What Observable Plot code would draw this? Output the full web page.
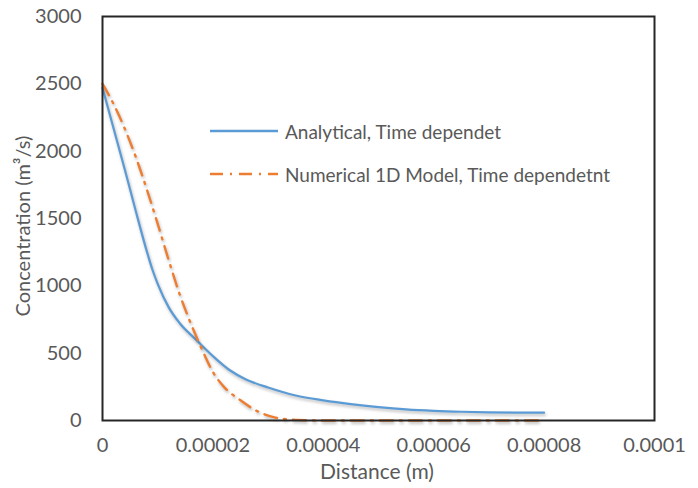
<!DOCTYPE html>
<html>
<head>
<meta charset="utf-8">
<script src="https://cdn.jsdelivr.net/npm/d3@7"></script>
<script src="https://cdn.jsdelivr.net/npm/@observablehq/plot@0.6"></script>
<style>
  html, body { margin: 0; padding: 0; background: #fff; }
  #wrap { position: relative; width: 698px; height: 488px; font-family: Lato, "Open Sans", sans-serif; color: #595959; }
  #wrap svg g[aria-label="line"] path { filter: drop-shadow(1px 2px 1.5px rgba(0,0,0,0.28)); }
  .legend { position: absolute; left: 210px; top: 117px; font-size: 19px; }
  .legend .row { display: flex; align-items: center; height: 28px; margin-bottom: 15px; white-space: nowrap; }
  .legend svg { margin-right: 7px; }
  .xlab { position: absolute; left: 377px; top: 470px; transform: translate(-50%, -50%); font-size: 21px; line-height: 1; white-space: nowrap; }
  .ylab { position: absolute; left: 22px; top: 226px; transform: translate(-50%, -50%) rotate(-90deg); font-size: 20px; line-height: 1; white-space: nowrap; }
</style>
</head>
<body>
<div id="wrap"></div>
<script>
// Analytical, Time dependent (blue)
const analyticalX = [0, 2e-6, 4e-6, 6e-6, 8e-6, 9e-6, 1e-5, 1.2e-5, 1.4e-5, 1.7e-5, 2e-5, 2.3e-5, 2.6e-5, 3e-5, 3.5e-5, 4e-5, 4.5e-5, 5e-5, 5.5e-5, 6e-5, 6.5e-5, 7e-5, 7.5e-5, 8e-5];
const analyticalY = [2470, 2170, 1870, 1560, 1260, 1125, 1015, 840, 722, 598, 478, 375, 305, 245, 186, 150, 122, 100, 83, 72, 65, 61, 59, 58];

// Numerical 1D Model, Time dependent (orange)
const numericalX = [0, 2e-6, 4e-6, 6e-6, 8e-6, 1e-5, 1.2e-5, 1.4e-5, 1.6e-5, 1.8e-5, 2e-5, 2.2e-5, 2.5e-5, 2.8e-5, 3.1e-5, 3.5e-5, 4e-5, 5e-5, 6e-5, 7e-5, 8e-5];
const numericalY = [2500, 2350, 2170, 1960, 1720, 1460, 1190, 935, 720, 530, 360, 250, 150, 70, 25, 5, 0, 0, 0, 0, 0];

const seriesNames = ["Analytical, Time dependet", "Numerical 1D Model, Time dependetnt"];
const xTicks = [0, 0.00002, 0.00004, 0.00006, 0.00008, 0.0001];
const yTicks = [0, 500, 1000, 1500, 2000, 2500, 3000];
const xLabel = "Distance (m)";
const yLabel = "Concentration (m³/s)";

const blue = "#5B9BD5";
const orange = "#ED7D31";
const dash = "13,7,2,7";

const analytical = analyticalX.map((x, i) => ({x, y: analyticalY[i]}));
const numerical = numericalX.map((x, i) => ({x, y: numericalY[i]}));

const chart = Plot.plot({
  width: 698,
  height: 488,
  marginLeft: 102,
  marginRight: 44,
  marginTop: 16,
  marginBottom: 68,
  style: {fontFamily: "Lato, 'Open Sans', sans-serif", fontSize: "20px", color: "#595959", background: "#fff"},
  x: {
    domain: [0, 0.0001],
    ticks: xTicks,
    tickFormat: d => String(+d.toFixed(6)),
    tickSize: 0,
    tickPadding: 17,
    label: null
  },
  y: {
    domain: [0, 3000],
    ticks: yTicks,
    tickFormat: d => String(d),
    tickSize: 0,
    tickPadding: 21,
    label: null
  },
  marks: [
    Plot.line(analytical, {x: "x", y: "y", stroke: blue, strokeWidth: 2.2, curve: "monotone-x"}),
    Plot.line(numerical, {x: "x", y: "y", stroke: orange, strokeWidth: 2.4, strokeDasharray: dash, curve: "monotone-x"}),
    Plot.frame({stroke: "#262626", strokeWidth: 2})
  ]
});

const wrap = document.getElementById("wrap");
wrap.appendChild(chart);

const xl = document.createElement("div");
xl.className = "xlab";
xl.textContent = xLabel;
wrap.appendChild(xl);
const yl = document.createElement("div");
yl.className = "ylab";
yl.textContent = yLabel;
wrap.appendChild(yl);

const legend = document.createElement("div");
legend.className = "legend";
const styles = [{stroke: blue, dash: null}, {stroke: orange, dash}];
seriesNames.forEach((name, i) => {
  const row = document.createElement("div");
  row.className = "row";
  const s = styles[i];
  row.innerHTML = `<svg width="68" height="6"><line x1="0" y1="3" x2="68" y2="3" stroke="${s.stroke}" stroke-width="2.4" ${s.dash ? `stroke-dasharray="${s.dash}"` : ""}/></svg><span>${name}</span>`;
  legend.appendChild(row);
});
wrap.appendChild(legend);
</script>
</body>
</html>
